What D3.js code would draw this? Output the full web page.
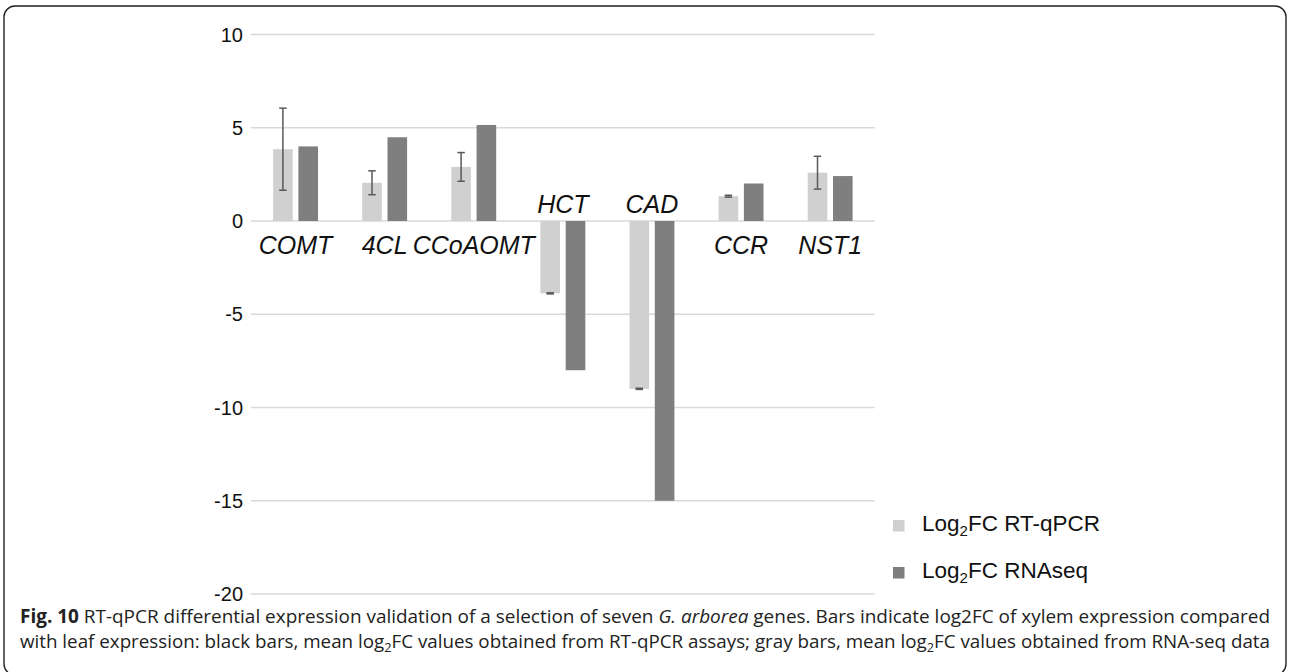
<!DOCTYPE html>
<html>
<head>
<meta charset="utf-8">
<script src="https://cdn.jsdelivr.net/npm/d3@7"></script>
<style>
  html, body { margin: 0; padding: 0; background: #fff; }
  svg { display: block; }
</style>
</head>
<body>
<svg id="chart" width="1290" height="672"></svg>
<script>
// data
const genes = ['COMT', '4CL', 'CCoAOMT', 'HCT', 'CAD', 'CCR', 'NST1'];
const seriesNames = ['Log2FC RT-qPCR', 'Log2FC RNAseq'];
const qpcr = [3.85, 2.05, 2.9, -3.88, -9.0, 1.33, 2.59];
const qpcrErr = [2.2, 0.64, 0.77, 0.03, 0.03, 0.05, 0.88];
const rnaseq = [4.0, 4.49, 5.15, -8.0, -15.0, 2.01, 2.41];
const yTicks = [10, 5, 0, -5, -10, -15, -20];

const colors = { qpcr: '#d0d0d0', rnaseq: '#7f7f7f' };

const svg = d3.select('#chart');

// card border
svg.append('rect')
  .attr('x', 4).attr('y', 6)
  .attr('width', 1282).attr('height', 669)
  .attr('rx', 11)
  .attr('fill', 'none')
  .attr('stroke', '#222')
  .attr('stroke-width', 1.4);

const plot = { left: 251, right: 874.7, top: 34.5, bottom: 594 };

const x = d3.scaleBand()
  .domain(genes)
  .range([plot.left, plot.right]);

const x1 = d3.scaleBand()
  .domain(['qpcr', 'rnaseq'])
  .range([x.bandwidth() / 2 - 22.45, x.bandwidth() / 2 + 22.45])
  .paddingInner(0.225);

const y = d3.scaleLinear()
  .domain([-20, 10])
  .range([plot.bottom, plot.top]);

// gridlines
svg.append('g')
  .selectAll('line')
  .data(yTicks)
  .join('line')
    .attr('x1', plot.left)
    .attr('x2', plot.right)
    .attr('y1', d => y(d))
    .attr('y2', d => y(d))
    .attr('stroke', '#d9d9d9')
    .attr('stroke-width', 1.5);

// y tick labels
svg.append('g')
  .selectAll('text')
  .data(yTicks)
  .join('text')
    .attr('x', 243)
    .attr('y', d => y(d))
    .attr('dy', '0.36em')
    .attr('text-anchor', 'end')
    .style('font-family', '"Liberation Sans", Arial, sans-serif')
    .style('font-size', '20px')
    .attr('fill', '#111')
    .text(d => d);

const rows = genes.map((g, i) => ({ gene: g, qpcr: qpcr[i], err: qpcrErr[i], rnaseq: rnaseq[i] }));

const groups = svg.append('g')
  .selectAll('g')
  .data(rows)
  .join('g')
    .attr('transform', d => `translate(${x(d.gene)},0)`);

groups.selectAll('rect')
  .data(d => [{ key: 'qpcr', v: d.qpcr }, { key: 'rnaseq', v: d.rnaseq }])
  .join('rect')
    .attr('x', d => x1(d.key))
    .attr('width', x1.bandwidth())
    .attr('y', d => y(Math.max(0, d.v)))
    .attr('height', d => Math.abs(y(d.v) - y(0)))
    .attr('fill', d => colors[d.key]);

// error bars on the RT-qPCR bars
const capW = 7.5;
groups.each(function(d) {
  const g = d3.select(this);
  const cx = x1('qpcr') + x1.bandwidth() / 2;
  const lo = y(d.qpcr - d.err), hi = y(d.qpcr + d.err);
  g.append('line')
    .attr('x1', cx).attr('x2', cx)
    .attr('y1', hi).attr('y2', lo)
    .attr('stroke', '#595959').attr('stroke-width', 1.5);
  [lo, hi].forEach(yy => {
    g.append('line')
      .attr('x1', cx - capW / 2).attr('x2', cx + capW / 2)
      .attr('y1', yy).attr('y2', yy)
      .attr('stroke', '#595959').attr('stroke-width', 1.5);
  });
});

// category labels: above the axis when the bars go down
svg.append('g')
  .selectAll('text')
  .data(rows)
  .join('text')
    .attr('x', d => x(d.gene) + x.bandwidth() / 2)
    .attr('y', d => d.rnaseq < 0 ? y(0) - 8 : y(0) + 33)
    .attr('text-anchor', 'middle')
    .style('font-family', '"Liberation Sans", Arial, sans-serif')
    .style('font-style', 'italic')
    .style('font-size', '25px')
    .attr('fill', '#111')
    .text(d => d.gene);

// legend
const legend = svg.append('g')
  .selectAll('g')
  .data(['qpcr', 'rnaseq'])
  .join('g')
    .attr('transform', (d, i) => `translate(893,${520 + i * 47})`);

legend.append('rect')
  .attr('width', 11.5).attr('height', 11.5)
  .attr('fill', d => colors[d]);

const legText = legend.append('text')
  .attr('x', 29)
  .attr('y', 10.5)
  .style('font-family', '"Liberation Sans", Arial, sans-serif')
  .style('font-size', '22.5px')
  .attr('fill', '#111');

legText.append('tspan').text('Log');
legText.append('tspan').attr('dy', 5).style('font-size', '15px').text('2');
legText.append('tspan').attr('dy', -5).text((d, i) => seriesNames[i].replace('Log2', ''));

// caption
const capFont = '"Open Sans", "Noto Sans", sans-serif';
const cap1 = svg.append('text')
  .attr('x', 20).attr('y', 623)
  .style('font-family', capFont)
  .style('font-size', '19px')
  .attr('fill', '#222')
  .attr('textLength', 1250)
  .attr('lengthAdjust', 'spacingAndGlyphs');
cap1.append('tspan').style('font-weight', 'bold').text('Fig. 10');
cap1.append('tspan').text(' RT-qPCR differential expression validation of a selection of seven ');
cap1.append('tspan').style('font-style', 'italic').text('G. arborea');
cap1.append('tspan').text(' genes. Bars indicate log2FC of xylem expression compared');

const cap2 = svg.append('text')
  .attr('x', 20).attr('y', 648)
  .style('font-family', capFont)
  .style('font-size', '19px')
  .attr('fill', '#222')
  .attr('textLength', 1250)
  .attr('lengthAdjust', 'spacingAndGlyphs');
cap2.append('tspan').text('with leaf expression: black bars, mean log');
cap2.append('tspan').attr('dy', 4).style('font-size', '13px').text('2');
cap2.append('tspan').attr('dy', -4).text('FC values obtained from RT-qPCR assays; gray bars, mean log');
cap2.append('tspan').attr('dy', 4).style('font-size', '13px').text('2');
cap2.append('tspan').attr('dy', -4).text('FC values obtained from RNA-seq data');
</script>
</body>
</html>
